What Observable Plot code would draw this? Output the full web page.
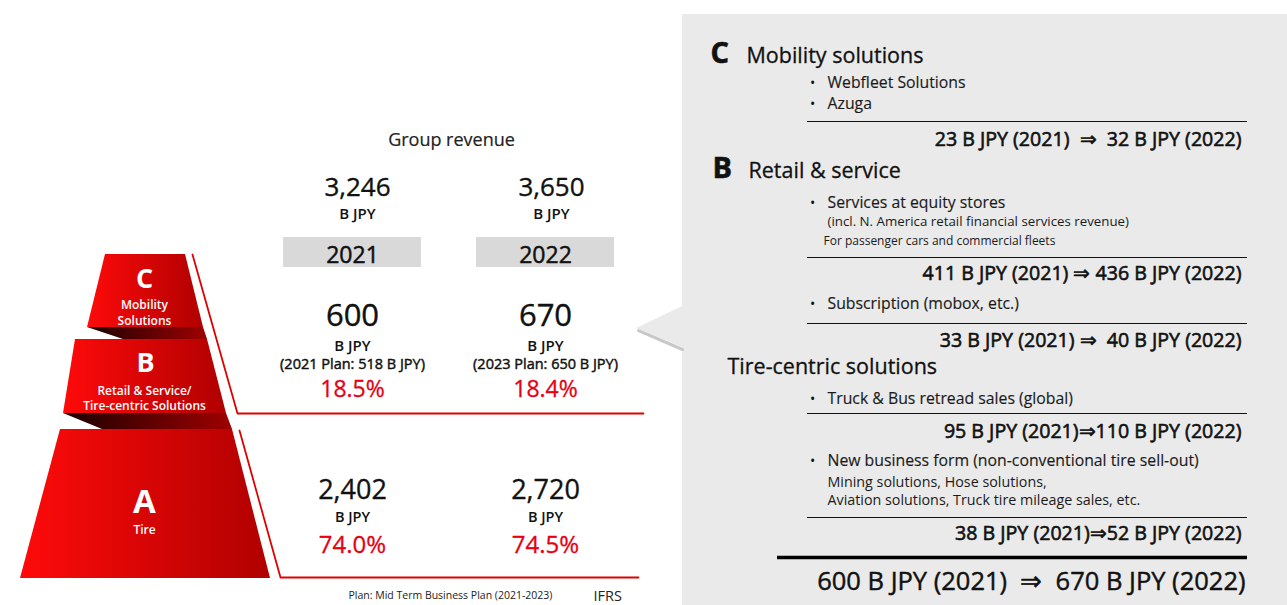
<!DOCTYPE html>
<html><head><meta charset="utf-8">
<script src="https://cdn.jsdelivr.net/npm/d3@7"></script>
<script src="https://cdn.jsdelivr.net/npm/@observablehq/plot@0.6"></script>
<style>html,body{margin:0;padding:0;background:#fff;} #chart{width:1287px;height:605px;overflow:hidden;}</style>
</head><body><div id="chart"></div>
<script>
// ---------------- data ----------------
const chartTitle = "Group revenue";
const years = ["2021", "2022"];
const groupRevenue = ["3,246", "3,650"];
const solutionsRevenue = ["600", "670"];
const solutionsPlans = ["(2021 Plan: 518 B JPY)", "(2023 Plan: 650 B JPY)"];
const solutionsShares = ["18.5%", "18.4%"];
const tireRevenue = ["2,402", "2,720"];
const tireShares = ["74.0%", "74.5%"];
const unitLabel = "B JPY";
const segmentLetters = ["C", "B", "A"];
const segmentNames = [["Mobility", "Solutions"], ["Retail & Service/", "Tire-centric Solutions"], ["Tire"]];
const detailLetters = ["C", "B"];
const detailHeadings = ["Mobility solutions", "Retail & service", "Tire-centric solutions"];
const detailBullets = ["Webfleet Solutions", "Azuga", "Services at equity stores", "Subscription (mobox, etc.)", "Truck & Bus retread sales (global)", "New business form (non-conventional tire sell-out)"];
const detailNotes = ["(incl. N. America retail financial services revenue)", "For passenger cars and commercial fleets", "Mining solutions, Hose solutions,", "Aviation solutions, Truck tire mileage sales, etc."];
const detailRevenue2021 = [23, 411, 33, 95, 38];
const detailRevenue2022 = [32, 436, 40, 110, 52];
const totalRevenue = [600, 670];
const footnote = "Plan: Mid Term Business Plan (2021-2023)";
const standardLabel = "IFRS";

// ---------------- layout ----------------
const W = 1287, H = 605;
const RED = "#e60012", INK = "#111111";
const colX = [352, 545], colXTop = [357, 551];
const shapes = [
  {id: "C", top: 254, tl: 105, tr: 185, bot: 327, bl: 87, br: 203},
  {id: "B", top: 339, tl: 75, tr: 207, bot: 413, bl: 63, br: 226},
  {id: "A", top: 429, tl: 60, tr: 232, bot: 578, bl: 20, br: 270}
];
const shadows = [
  {id: "CB", top: 327, tl: 87, tr: 203, bot: 339, bl: 123, br: 207},
  {id: "BA", top: 413, tl: 63, tr: 226, bot: 429, bl: 102, br: 232}
];
const toArea = (list) => list.flatMap(s => [
  {id: s.id, y: s.top, x1: s.tl, x2: s.tr},
  {id: s.id, y: s.bot, x1: s.bl, x2: s.br}
]);
const redLines = [
  {id: 1, x: 192, y: 254}, {id: 1, x: 237, y: 413}, {id: 1, x: 643, y: 413},
  {id: 2, x: 239, y: 430}, {id: 2, x: 280, y: 577}, {id: 2, x: 638, y: 577}
];
const callout = [{y: 306, x1: 682, x2: 682}, {y: 328, x1: 636, x2: 682}, {y: 347, x1: 682, x2: 682}];
const letterPos = [{x: 144, y: 287, fs: 27}, {x: 145, y: 371, fs: 27}, {x: 144, y: 512, fs: 33}];
const namePos = [[308, 324], [394, 409], [533]];
const headLetterPos = [{x: 710, y: 62}, {x: 712, y: 177}];
const headPos = [{x: 746, y: 62}, {x: 748, y: 177}, {x: 727, y: 373}];
const bulletY = [87, 108, 207, 308, 403, 465];
const notePos = [{x: 827, y: 225, fs: 13.3}, {x: 823, y: 244, fs: 12}, {x: 827, y: 486, fs: 14.3}, {x: 827, y: 504, fs: 14.3}];
const ruleY = [121, 257, 323, 413, 517];
const valueY = [145, 279, 346, 437, 539];
const seps = ["\u00a0\u00a0\u21d2\u00a0\u00a0", " \u21d2 ", " \u21d2\u00a0\u00a0", "\u21d2", "\u21d2"];

// ---------------- text tables ----------------
const rows = (arr, fx, fy) => arr.map((t, i) => ({text: t, x: fx(i), y: fy(i)}));
const T = (data, o) => Plot.text(data, {x: "x", y: "y", text: "text", lineAnchor: "bottom", fill: INK, ...o});
const semi = (c = INK, w = 0.45) => ({stroke: c, strokeWidth: w});

const defs = () => {
  const d = d3.create("svg:defs");
  const g1 = d.append("linearGradient").attr("id", "redGrad").attr("x1", 0).attr("x2", 1).attr("y1", 0).attr("y2", 0);
  g1.append("stop").attr("offset", "0%").attr("stop-color", "#ff0a0a");
  g1.append("stop").attr("offset", "100%").attr("stop-color", "#b00000");
  const g2 = d.append("linearGradient").attr("id", "shadeGrad").attr("x1", 0).attr("x2", 1).attr("y1", 0).attr("y2", 0);
  g2.append("stop").attr("offset", "0%").attr("stop-color", "#1a0000");
  g2.append("stop").attr("offset", "100%").attr("stop-color", "#a00000");
  return d.node();
};

const valueText = detailRevenue2021.map((a, i) => `${a} ${unitLabel} (${years[0]})${seps[i]}${detailRevenue2022[i]} ${unitLabel} (${years[1]})`);
const totalText = `${totalRevenue[0]} ${unitLabel} (${years[0]})\u00a0\u00a0\u21d2\u00a0\u00a0${totalRevenue[1]} ${unitLabel} (${years[1]})`;

const chart = Plot.plot({
  width: W, height: H, margin: 0,
  x: {domain: [0, W], range: [0, W], axis: null},
  y: {domain: [0, H], range: [0, H], axis: null},
  style: {fontFamily: "'Open Sans', 'Noto Sans', sans-serif", background: "#fff", overflow: "hidden"},
  marks: [
    defs,
    // right panel
    Plot.rect([{x1: 682, x2: W, y1: 14, y2: H}], {x1: "x1", x2: "x2", y1: "y1", y2: "y2", fill: "#eaeaea"}),
    Plot.line([{x: 638, y: 330}, {x: 682, y: 349}], {x: "x", y: "y", stroke: "#c8c8c8", strokeWidth: 3}),
    Plot.areaX(callout, {y: "y", x1: "x1", x2: "x2", fill: "#eaeaea", curve: "linear"}),
    // pyramid
    Plot.areaX(toArea(shadows), {y: "y", x1: "x1", x2: "x2", z: "id", fill: "url(#shadeGrad)", curve: "linear"}),
    Plot.areaX(toArea(shapes), {y: "y", x1: "x1", x2: "x2", z: "id", fill: "url(#redGrad)", curve: "linear"}),
    Plot.line(redLines, {x: "x", y: "y", z: "id", stroke: "#e00000", strokeWidth: 1.8, curve: "linear"}),
    T(segmentLetters.map((t, i) => ({text: t, ...letterPos[i]})), {fill: "white", fontWeight: 700, fontSize: "fs", textAnchor: "middle"}),
    T(segmentNames.flatMap((ns, i) => ns.map((t, j) => ({text: t, x: 144, y: namePos[i][j]}))), {fill: "white", fontWeight: 600, fontSize: 12, textAnchor: "middle"}),
    // year boxes
    Plot.rect(years, {x1: (d, i) => colX[i] - 69, x2: (d, i) => colX[i] + 69, y1: () => 237, y2: () => 267, fill: "#d9d9d9"}),
    // centre texts
    T([{text: chartTitle, x: 451, y: 145}], {fontSize: 18, textAnchor: "middle", fill: "#222", ...semi("#222", 0.2)}),
    T(rows(groupRevenue, i => colXTop[i], () => 195), {fontSize: 26, textAnchor: "middle", ...semi(INK, 0.35)}),
    T(rows(years.map(() => unitLabel), i => colXTop[i], () => 218), {fontSize: 15, fontWeight: 600, textAnchor: "middle"}),
    T(rows(years, i => colX[i], () => 262), {fontSize: 23, textAnchor: "middle", ...semi(INK, 0.5)}),
    T(rows(solutionsRevenue, i => colX[i], () => 325), {fontSize: 31, textAnchor: "middle", ...semi(INK, 0.4)}),
    T(rows(years.map(() => unitLabel), i => colX[i], () => 350), {fontSize: 15, fontWeight: 600, textAnchor: "middle"}),
    T(rows(solutionsPlans, i => colX[i], () => 368), {fontSize: 14.5, textAnchor: "middle", ...semi(INK, 0.45)}),
    T(rows(solutionsShares, i => colX[i], () => 396), {fontSize: 23, fill: RED, textAnchor: "middle", ...semi(RED, 0.3)}),
    T(rows(tireRevenue, i => colX[i], () => 498), {fontSize: 27, textAnchor: "middle", ...semi(INK, 0.35)}),
    T(rows(years.map(() => unitLabel), i => colX[i], () => 521.5), {fontSize: 14.5, fontWeight: 600, textAnchor: "middle"}),
    T(rows(tireShares, i => colX[i], () => 552), {fontSize: 24, fill: RED, textAnchor: "middle", ...semi(RED, 0.3)}),
    T([{text: footnote, x: 348, y: 598}], {fontSize: 10.5, textAnchor: "start", fill: "#222"}),
    T([{text: standardLabel, x: 593, y: 600}], {fontSize: 14.5, textAnchor: "start", fill: "#222"}),
    // right panel texts
    T(detailLetters.map((t, i) => ({text: t, ...headLetterPos[i]})), {fontSize: 29, fontWeight: 700, textAnchor: "start", ...semi(INK, 0.6)}),
    T(detailHeadings.map((t, i) => ({text: t, ...headPos[i]})), {fontSize: 21.5, textAnchor: "start", ...semi(INK, 0.3)}),
    T(rows(detailBullets.map(() => "\u2022"), () => 812, i => bulletY[i]), {fontSize: 14, textAnchor: "middle"}),
    T(rows(detailBullets, () => 827, i => bulletY[i]), {fontSize: 15.8, textAnchor: "start", fill: "#1a1a1a", ...semi("#1a1a1a", 0.15)}),
    T(detailNotes.map((t, i) => ({text: t, x: notePos[i].x, y: notePos[i].y, fs: notePos[i].fs})), {fontSize: "fs", textAnchor: "start", fill: "#1a1a1a"}),
    Plot.ruleY(ruleY, {y: d => d, x1: () => 807, x2: () => 1247, stroke: "#111", strokeWidth: 1.2}),
    T(rows(valueText, () => 1241, i => valueY[i]), {fontSize: 19.6, textAnchor: "end", ...semi(INK, 0.6)}),
    Plot.ruleY([557], {y: d => d, x1: () => 777, x2: () => 1247, stroke: "#000", strokeWidth: 3.5}),
    T([{text: totalText, x: 1245, y: 589}], {fontSize: 25.5, textAnchor: "end", ...semi(INK, 0.45)})
  ]
});
document.getElementById("chart").appendChild(chart);
</script>
</body></html>
